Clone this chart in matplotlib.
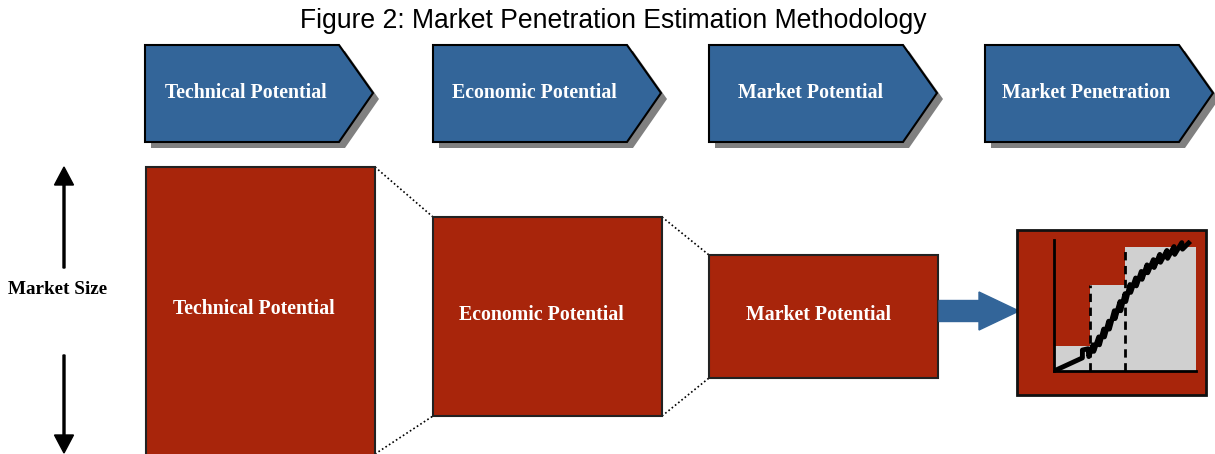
import matplotlib
matplotlib.use("Agg")
import matplotlib.pyplot as plt
from matplotlib.patches import Polygon, Rectangle, FancyArrow

# data
stage_labels = ["Technical Potential", "Economic Potential", "Market Potential", "Market Penetration"]
box_labels = ["Technical Potential", "Economic Potential", "Market Potential"]
step_edges = [0, 1, 2, 4]
step_heights = [0.19, 0.66, 0.95]
curve_x = [0.0, 0.80, 0.80, 0.96, 0.98, 1.10, 1.12, 1.26, 1.28, 1.40, 1.42, 1.54, 1.56, 1.70, 1.72,
           1.86, 1.88, 2.00, 2.02, 2.14, 2.16, 2.30, 2.32, 2.46, 2.48, 2.62, 2.64, 2.80, 2.82, 2.98,
           3.00, 3.18, 3.20, 3.38, 3.40, 3.60, 3.62, 3.84]
curve_y = [0.0, 0.10, 0.16, 0.17, 0.11, 0.20, 0.15, 0.26, 0.20, 0.32, 0.26, 0.38, 0.32, 0.46, 0.40,
           0.53, 0.46, 0.59, 0.53, 0.66, 0.60, 0.71, 0.65, 0.76, 0.70, 0.81, 0.75, 0.85, 0.79, 0.89,
           0.83, 0.92, 0.86, 0.95, 0.89, 0.98, 0.93, 0.99]

blue = "#336599"
red = "#A8250B"
serif = ["Liberation Serif", "DejaVu Serif"]

fig = plt.figure(figsize=(12.15, 4.54), dpi=100)
ax = fig.add_axes([0, 0, 1, 1])
ax.set_xlim(0, 1215)
ax.set_ylim(454, 0)
ax.axis("off")

fig.text(613 / 1215, 1 - 21 / 454, "Figure 2: Market Penetration Estimation Methodology",
         ha="center", va="center", fontsize=19.1, family="Liberation Sans")

# chevrons across the top
chev_left = [145, 433, 709, 985]
top, bot, mid = 45, 142, 93
for left, lab in zip(chev_left, stage_labels):
    pts = [(left, top), (left + 194, top), (left + 228, mid), (left + 194, bot), (left, bot)]
    shadow = [(x + 6, y + 6) for x, y in pts]
    ax.add_patch(Polygon(shadow, closed=True, facecolor="#808080", edgecolor="none", zorder=1))
    ax.add_patch(Polygon(pts, closed=True, facecolor=blue, edgecolor="black", lw=1.5, zorder=2))
    ax.text(left + 114 - 13, mid, lab, ha="center", va="center", color="white",
            fontsize=14.3, fontweight="bold", family=serif, zorder=3)

# red boxes
boxes = [(146, 167, 229, 300), (433, 217, 229, 199), (709, 255, 229, 123)]
for (x, y, w, h) in boxes:
    ax.add_patch(Rectangle((x, y), w, h, facecolor=red, edgecolor="#222222", lw=1.5, zorder=2))
label_pos = [(254, 309), (541, 315), (818, 315)]
for (tx, ty), lab in zip(label_pos, box_labels):
    ax.text(tx, ty, lab, ha="center", va="center", color="white",
            fontsize=14.3, fontweight="bold", family=serif, zorder=3)

# dotted connectors
for (x1, y1, x2, y2) in [(375, 167, 433, 217), (375, 454, 433, 416),
                         (662, 217, 709, 255), (662, 416, 709, 378)]:
    ax.plot([x1, x2], [y1, y2], color="black", lw=1.2, ls=(0, (1, 1.5)), zorder=1)

# market size label and arrows
ax.text(58, 290, "Market Size", ha="center", va="center", fontsize=13.8,
        fontweight="bold", family=serif)
ax.add_patch(FancyArrow(64, 268, 0, -101, width=2, head_width=19, head_length=18,
                        length_includes_head=True, color="black"))
ax.add_patch(FancyArrow(64, 355, 0, 98, width=2, head_width=19, head_length=18,
                        length_includes_head=True, color="black"))

# blue arrow
ax.add_patch(FancyArrow(939, 311, 80, 0, width=21, head_width=38, head_length=40,
                        length_includes_head=True, color=blue, zorder=2))

# penetration box
ax.add_patch(Rectangle((1017, 230), 189, 165, facecolor=red, edgecolor="#111111", lw=2, zorder=3))

ins = fig.add_axes([1054 / 1215, 1 - 371 / 454, 142 / 1215, 131 / 454])
ins.patch.set_alpha(0)
for i in range(len(step_heights)):
    ins.bar(step_edges[i], step_heights[i], width=step_edges[i + 1] - step_edges[i],
            align="edge", color="#D0D0D0", zorder=1)
    if i > 0:
        ins.plot([step_edges[i], step_edges[i]], [0, step_heights[i]], color="black",
                 lw=2, ls=(0, (3, 2)), zorder=2)
ins.plot(curve_x, curve_y, color="black", lw=3.5, zorder=3, solid_capstyle="butt")
ins.set_xlim(0, 4)
ins.set_ylim(0, 1)
for s in ["top", "right"]:
    ins.spines[s].set_visible(False)
ins.spines["left"].set_linewidth(2)
ins.spines["bottom"].set_linewidth(2)
ins.set_xticks([])
ins.set_yticks([])

fig.savefig("out.png", dpi=100)
